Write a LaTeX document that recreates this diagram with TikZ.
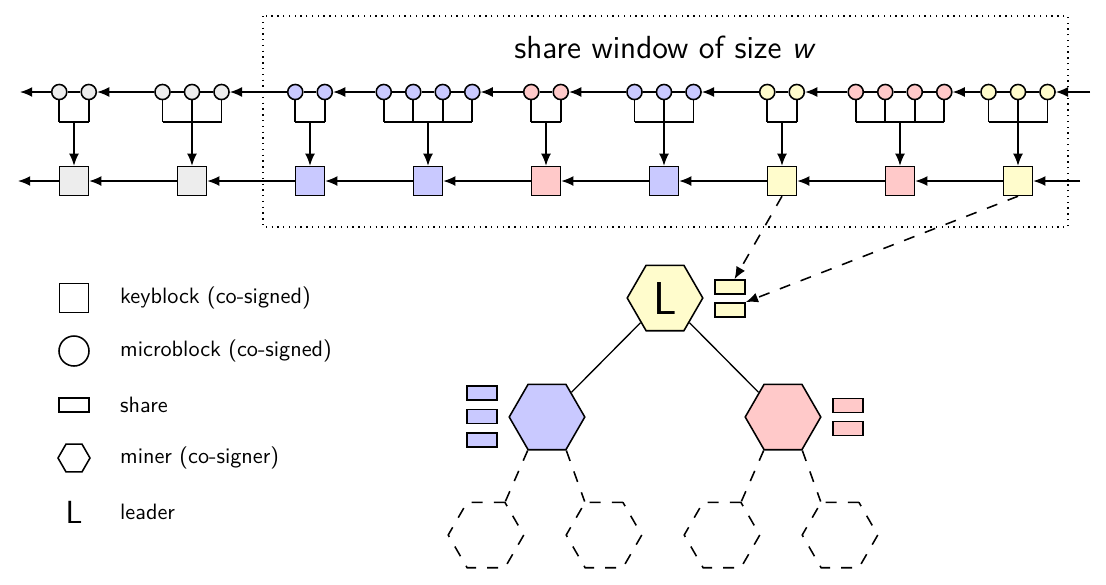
\documentclass[tikz,border=0pt]{standalone}
\usetikzlibrary{arrows.meta,shapes.geometric}
\renewcommand{\familydefault}{\sfdefault}
\colorlet{kbgray}{black!7}
\colorlet{kbblue}{blue!21}
\colorlet{kbred}{red!21}
\colorlet{kbyellow}{yellow!20}

\begin{document}
\begin{tikzpicture}[%
            x=0.45pt, y=-0.45pt, line width=0.7pt,
            >={Latex[length=5.5pt,width=4.5pt]},
            keyblock/.style={shape=rectangle, draw, inner sep=0pt, minimum size=13pt},
            microblock/.style={shape=circle, draw, inner sep=0pt, minimum size=6.8pt},
            share/.style={shape=rectangle, draw, inner sep=0pt, minimum width=13.5pt, minimum height=6.4pt},
            miner/.style={shape=regular polygon, regular polygon sides=6, draw, inner sep=0pt, minimum size=34pt},
            longdash/.style={dash pattern=on 5pt off 5pt},
            ghost/.style={miner, longdash}
        ]
        \useasboundingbox (0,0) rectangle (1106,584);

        % share window
        \draw [line width=0.6pt, dotted] (263,16) rectangle (1068,227);
        \node (title) at (665,47) {\Large share window of size \textit{w}};

        % keyblocks and their microblocks
        \foreach \n/\c [count=\k, remember=\n as \m (initially 0), remember=\k as \j (initially 0)] in
                {2/kbgray,3/kbgray,2/kbblue,4/kbblue,2/kbred,3/kbblue,2/kbyellow,4/kbred,3/kbyellow} {
            \node [keyblock, fill=\c] (kb\k) at ({74+118*(\k-1)},181) {};
            \foreach \i in {1,...,\n}
                \node [microblock, fill=\c] (mb\k-\i) at ({74+118*(\k-1)+29.5*(\i-(\n+1)/2)},92) {};
            \foreach \i [remember=\i as \h (initially 1)] in {2,...,\n}
                \draw (mb\k-\h) -- (mb\k-\i);
            \coordinate (br\k) at ({74+118*(\k-1)},122);
            \foreach \i in {1,...,\n}
                \draw (mb\k-\i) -- (mb\k-\i |- br\k);
            \draw (mb\k-1 |- br\k) -- (mb\k-\n |- br\k);
            \draw [->] (br\k) -- (kb\k);
            \ifnum\k>1
                \draw [->] (kb\k) -- (kb\j);
                \draw [->] (mb\k-1) -- (mb\j-\m);
            \fi
        }
        \coordinate (kbL) at (18,181);
        \coordinate (kbR) at (1080,181);
        \coordinate (mbL) at (20,92);
        \coordinate (mbR) at (1090,92);
        \draw [->] (kb1) -- (kbL);
        \draw [->] (kbR) -- (kb9);
        \draw [->] (mb1-1) -- (mbL);
        \draw [->] (mbR) -- (mb9-3);

        % co-signers
        \node [miner, fill=kbyellow] (leader) at (665,298) {\huge L};
        \node [share, fill=kbyellow] (ls1) at (730,287) {};
        \node [share, fill=kbyellow] (ls2) at (730,310) {};
        \node [miner, fill=kbblue] (mblue) at (547,417) {};
        \node [miner, fill=kbred] (mred) at (783,417) {};
        \node [share, fill=kbblue] (bs1) at (482,393) {};
        \node [share, fill=kbblue] (bs2) at (482,416.5) {};
        \node [share, fill=kbblue] (bs3) at (482,440) {};
        \node [share, fill=kbred] (rs1) at (848,405.5) {};
        \node [share, fill=kbred] (rs2) at (848,428.5) {};
        \draw [line width=0.6pt] (leader) -- (mblue);
        \draw [line width=0.6pt] (leader) -- (mred);

        \node [ghost] (g1) at (486,535) {};
        \node [ghost] (g2) at (604,535) {};
        \node [ghost] (g3) at (722,535) {};
        \node [ghost] (g4) at (840,535) {};
        \draw [longdash] (mblue.240) -- (g1.60);
        \draw [longdash] (mblue.300) -- (g2.120);
        \draw [longdash] (mred.240) -- (g3.60);
        \draw [longdash] (mred.300) -- (g4.120);

        \draw [->, longdash] (kb7.south) -- (ls1);
        \draw [->, longdash] (kb9.south) -- (ls2.north east);

        % legend
        \node [keyblock] (lgkb) at (74,298) {};
        \node [microblock, minimum size=13.5pt] (lgmb) at (74,351) {};
        \node [share] (lgsh) at (74,405) {};
        \node [miner, minimum size=14.4pt] (lgmi) at (74,458) {};
        \node (lgld) at (74,512) {\Large L};
        \node [anchor=west] (lgkbt) at (112,298) {keyblock (co-signed)};
        \node [anchor=west] (lgmbt) at (112,351) {microblock (co-signed)};
        \node [anchor=west] (lgsht) at (112,405) {share};
        \node [anchor=west] (lgmit) at (112,458) {miner (co-signer)};
        \node [anchor=west] (lgldt) at (112,512) {leader};
    \end{tikzpicture}
\end{document}
